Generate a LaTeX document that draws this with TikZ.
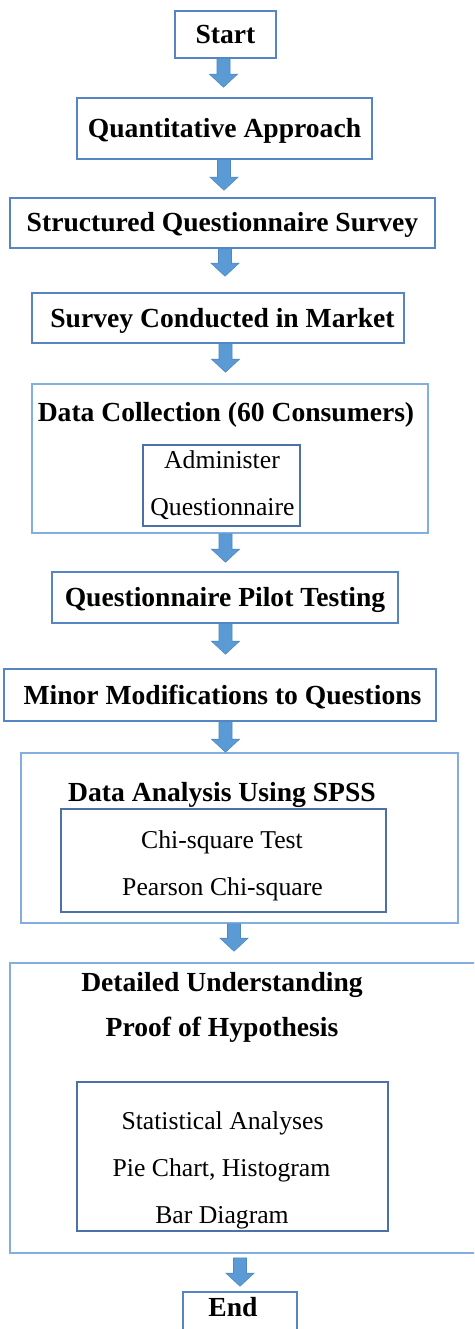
\documentclass[tikz,border=0pt]{standalone}
\usepackage{fontspec}
\setmainfont{Liberation Serif}
\usetikzlibrary{calc}
\definecolor{boxblue}{HTML}{5585C2}
\definecolor{grpblue}{HTML}{82AEE0}
\definecolor{innerblue}{HTML}{4A72A8}
\definecolor{arrfill}{HTML}{5B9BD5}
\definecolor{arrline}{HTML}{4F87C2}
\tikzset{
  bt/.style={font=\fontsize{27.6}{33}\selectfont\bfseries, text height=19pt, text depth=1pt, inner sep=0pt},
  rt/.style={font=\fontsize{25.7}{31}\selectfont, text height=18pt, text depth=1pt, inner sep=0pt},
  plainbox/.style={draw=boxblue, line width=1.6pt, fill=white, inner sep=0pt},
  grpbox/.style={draw=grpblue, line width=1.6pt, fill=white, inner sep=0pt},
  innerbox/.style={draw=innerblue, line width=1.6pt, fill=white, inner sep=0pt},
  arrowsty/.style={fill=arrfill, draw=arrline, line width=0.6pt, line join=miter},
}
\newcommand\blockarr[5]{%
  \filldraw[arrowsty] let \p1=(#1.south), \p2=(#2.north) in
    ({#3pt-6.5pt},{\y1-#4pt}) -- ({#3pt+6.5pt},{\y1-#4pt})
    -- ({#3pt+6.5pt},{\y2+#5pt+13pt}) -- ({#3pt+14pt},{\y2+#5pt+13pt})
    -- ({#3pt},{\y2+#5pt}) -- ({#3pt-14pt},{\y2+#5pt+13pt})
    -- ({#3pt-6.5pt},{\y2+#5pt+13pt}) -- cycle;}
\begin{document}
\begin{tikzpicture}[x=1pt,y=-1pt]
\useasboundingbox (0,0) rectangle (474,1329);
\clip (0,0) rectangle (474,1329);
\fill[white] (0,0) rectangle (474,1329);

% simple boxes
\node[plainbox, bt, minimum width=101pt, minimum height=47pt] (start) at (225.5,34.5) {Start};
\node[plainbox, bt, minimum width=295pt, minimum height=61pt] (quant) at (224.5,128.5) {Quantitative Approach};
\node[plainbox, bt, minimum width=425pt, minimum height=50pt] (struct) at (222.5,223) {Structured Questionnaire Survey};
\node[plainbox, bt, minimum width=372pt, minimum height=50pt] (survey) at (218,318) {};
\node[bt] (surveyt) at (222.5,318) {Survey Conducted in Market};

% data collection group
\node[grpbox, minimum width=396pt, minimum height=149pt] (dcol) at (230,458.5) {};
\node[bt] (dcolt) at (226,412) {Data Collection (60 Consumers)};
\node[innerbox, minimum width=157pt, minimum height=81pt] (dcolin) at (221.5,485.5) {};
\node[rt] (adm1) at (222,460) {Administer};
\node[rt] (adm2) at (222.5,507) {Questionnaire};

\node[plainbox, bt, minimum width=346pt, minimum height=51pt] (pilot) at (225,597.5) {Questionnaire Pilot Testing};
\node[plainbox, minimum width=432pt, minimum height=52pt] (minor) at (220,695) {};
\node[bt] (minort) at (222.5,695) {Minor Modifications to Questions};

% SPSS group
\node[grpbox, minimum width=437pt, minimum height=170pt] (spss) at (239.5,838) {};
\node[bt] (spsst) at (222,792) {Data Analysis Using SPSS};
\node[innerbox, minimum width=325pt, minimum height=103pt] (spssin) at (223.5,860.5) {};
\node[rt] (chi1) at (222,840) {Chi-square Test};
\node[rt] (chi2) at (222.5,887) {Pearson Chi-square};

% detailed group
\node[grpbox, minimum width=480pt, minimum height=290pt] (det) at (250,1108) {};
\node[bt] (dett1) at (222,982) {Detailed Understanding};
\node[bt] (dett2) at (222,1027) {Proof of Hypothesis};
\node[innerbox, minimum width=311pt, minimum height=149pt] (detin) at (232.5,1156.5) {};
\node[rt] (st1) at (222.5,1121) {Statistical Analyses};
\node[rt] (st2) at (221.5,1168) {Pie Chart, Histogram};
\node[rt] (st3) at (222,1215) {Bar Diagram};

% end
\node[plainbox, minimum width=114pt, minimum height=60pt] (end) at (240,1322) {};
\node[bt] (endt) at (233,1307) {End};

% arrows
\blockarr{start}{quant}{223.5}{0}{10}
\blockarr{quant}{struct}{224}{0}{7}
\blockarr{struct}{survey}{225}{0}{16}
\blockarr{survey}{dcol}{225.5}{0}{11}
\blockarr{dcol}{pilot}{225.5}{0}{9}
\blockarr{pilot}{minor}{225.5}{0}{14}
\blockarr{minor}{spss}{225.5}{0}{0}
\blockarr{spss}{det}{234}{0}{11}
\blockarr{det}{end}{240}{4}{5}
\end{tikzpicture}
\end{document}
